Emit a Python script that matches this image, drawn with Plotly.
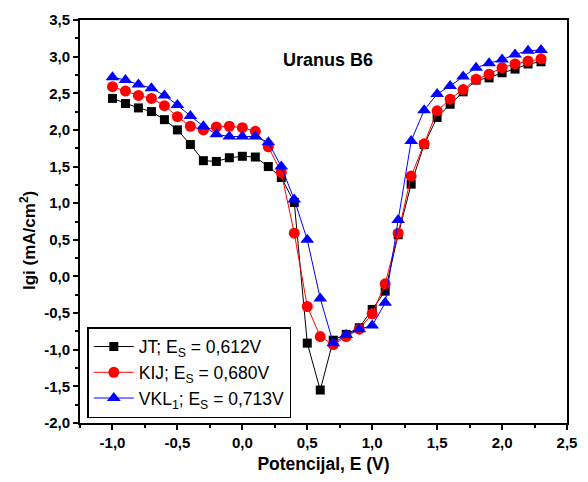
import plotly.graph_objects as go

E = [round(-1.0 + 0.1 * i, 1) for i in range(34)]

jt = [2.43, 2.36, 2.30, 2.25, 2.14, 2.00, 1.80, 1.58, 1.57, 1.62, 1.64, 1.63, 1.50, 1.35, 1.01,
      -0.91, -1.55, -0.87, -0.79, -0.70, -0.45, -0.20, 0.57, 1.26, 1.80, 2.17, 2.35, 2.52, 2.68,
      2.71, 2.78, 2.83, 2.90, 2.93]
kij = [2.59, 2.53, 2.47, 2.43, 2.33, 2.18, 2.05, 2.00, 2.04, 2.05, 2.03, 1.98, 1.77, 1.42, 0.59,
       -0.41, -0.82, -0.93, -0.82, -0.72, -0.51, -0.10, 0.59, 1.37, 1.81, 2.26, 2.42, 2.55, 2.69,
       2.76, 2.85, 2.90, 2.94, 2.97]
vkl = [2.72, 2.68, 2.62, 2.57, 2.47, 2.34, 2.19, 2.05, 1.94, 1.91, 1.91, 1.91, 1.83, 1.50, 1.05,
       0.50, -0.30, -0.91, -0.80, -0.72, -0.67, -0.36, 0.77, 1.85, 2.27, 2.49, 2.60, 2.73, 2.85,
       2.91, 2.96, 3.03, 3.08, 3.09]

x_tickvals = [-1.0, -0.5, 0.0, 0.5, 1.0, 1.5, 2.0, 2.5]
x_ticktext = ["-1,0", "-0,5", "0,0", "0,5", "1,0", "1,5", "2,0", "2,5"]
y_tickvals = [-2.0, -1.5, -1.0, -0.5, 0.0, 0.5, 1.0, 1.5, 2.0, 2.5, 3.0, 3.5]
y_ticktext = ["-2,0", "-1,5", "-1,0", "-0,5", "0,0", "0,5", "1,0", "1,5", "2,0", "2,5", "3,0", "3,5"]

names = ["JT; E<sub>S</sub> = 0,612V", "KIJ; E<sub>S</sub> = 0,680V", "VKL<sub>1</sub>; E<sub>S</sub> = 0,713V"]
series = [jt, kij, vkl]
colors = ["#000000", "#FF0000", "#0000FF"]
symbols = ["square", "circle", "triangle-up"]
sizes = [9, 11, 12]

FONT = "Arial, Liberation Sans"

fig = go.Figure()
for n, y, c, s, sz in zip(names, series, colors, symbols, sizes):
    fig.add_trace(go.Scatter(x=E, y=y, name=n, mode="lines+markers",
                             line=dict(color=c, width=1),
                             marker=dict(symbol=s, size=sz, color=c, line=dict(width=0))))

axis_common = dict(showline=True, linecolor="black", linewidth=2, mirror=True,
                   ticks="outside", ticklen=5, tickwidth=1.5, tickcolor="black",
                   showgrid=False, zeroline=False,
                   tickfont=dict(family=FONT, size=15, color="black", weight="bold"),
                   minor=dict(ticks="outside", ticklen=3, tickwidth=1.5, tickcolor="black", dtick=0.25))

fig.update_layout(
    width=588, height=482,
    margin=dict(l=80, r=11, t=19, b=58),
    paper_bgcolor="white", plot_bgcolor="white",
    font=dict(family=FONT, color="black"),
    xaxis=dict(range=[-1.25, 2.5], tickmode="array", tickvals=x_tickvals, ticktext=x_ticktext,
               title=dict(text="<b>Potencijal, E (V)</b>", font=dict(size=17.5, family=FONT), standoff=8),
               **axis_common),
    yaxis=dict(range=[-2.0, 3.5], tickmode="array", tickvals=y_tickvals, ticktext=y_ticktext,
               **axis_common),
    legend=dict(x=0.015, y=0.012, xanchor="left", yanchor="bottom",
                bordercolor="black", borderwidth=1.5, bgcolor="white",
                font=dict(size=17.5, family=FONT),
                tracegroupgap=0, itemwidth=40),
    showlegend=True,
    annotations=[
        dict(text="<b>Uranus B6</b>", x=0.51, y=0.93, xref="paper", yref="paper",
             showarrow=False, font=dict(size=18, family=FONT)),
        dict(text="<b>Igi (mA/cm<sup>2</sup>)</b>", x=-0.107, y=0.326, xref="paper", yref="paper",
             xanchor="center", yanchor="bottom", textangle=-90,
             showarrow=False, font=dict(size=17, family=FONT)),
    ],
)

fig.write_html("out.html")
